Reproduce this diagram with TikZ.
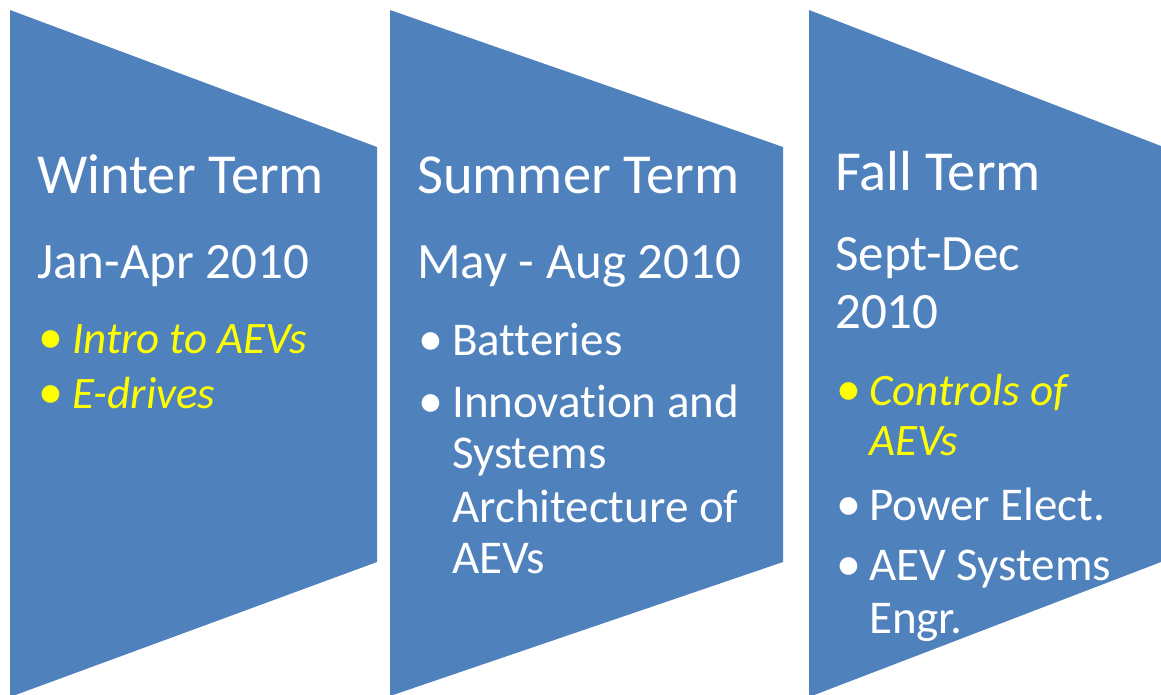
\documentclass[tikz,border=0pt]{standalone}
\usepackage{fontspec}
\setmainfont{Carlito}[Ligatures=NoCommon]
\definecolor{termblue}{HTML}{4F81BD}
\definecolor{hiyellow}{HTML}{FFFF00}
\tikzset{
  termshape/.style={fill=termblue, draw=none},
  titletext/.style={anchor=base west, inner sep=0pt, text=white, font=\fontsize{56.5}{56}\selectfont},
  datetext/.style={anchor=base west, inner sep=0pt, text=white, font=\fontsize{51}{51}\selectfont},
  itemtext/.style={anchor=base west, inner sep=0pt, text=white, font=\fontsize{47}{47}\selectfont},
  hitext/.style={anchor=base west, inner sep=0pt, text=hiyellow, font=\fontsize{45}{45}\itshape\selectfont},
  bullettext/.style={anchor=base west, inner sep=0pt, text=white, font=\fontsize{50}{50}\selectfont},
  hibullet/.style={bullettext, text=hiyellow},
}
\begin{document}
\begin{tikzpicture}[x=1pt,y=-1pt]
\useasboundingbox (0,0) rectangle (1161,694);
\clip (0,0) rectangle (1161,694);
% shapes
\fill[termshape] (10,10) -- (377,147) -- (377,562) -- (10,697) -- cycle;
\fill[termshape] (390,10) -- (783,147) -- (783,562) -- (390,696) -- cycle;
\fill[termshape] (809,10) -- (1161,146) -- (1161,562) -- (809,697) -- cycle;
% column 1
\node[titletext] (t1) at (37,193) {Winter Term};
\node[datetext] (d1) at (37,278) {Jan-Apr 2010};
\node[hibullet] (b1a) at (38,353) {•};
\node[hitext] (i1a) at (72,353) {Intro to AEVs};
\node[hibullet] (b1b) at (38,408) {•};
\node[hitext] (i1b) at (72,408) {E-drives};
% column 2
\node[titletext] (t2) at (417,193) {Summer Term};
\node[datetext] (d2) at (417,278) {May - Aug 2010};
\node[bullettext] (b2a) at (418,355) {•};
\node[itemtext] (i2a) at (452,355) {Batteries};
\node[bullettext] (b2b) at (418,417) {•};
\node[itemtext] (i2b) at (452,417) {Innovation and};
\node[itemtext] (i2c) at (452,468) {Systems};
\node[itemtext] (i2d) at (452,522) {Architecture of};
\node[itemtext] (i2e) at (452,573) {AEVs};
% column 3
\node[titletext] (t3) at (835,190) {Fall Term};
\node[datetext] (d3a) at (835,270) {Sept-Dec};
\node[datetext] (d3b) at (835,328) {2010};
\node[hibullet] (b3a) at (836,405) {•};
\node[hitext] (i3a) at (869,405) {Controls of};
\node[hitext] (i3b) at (869,455) {AEVs};
\node[bullettext] (b3b) at (836,520) {•};
\node[itemtext] (i3c) at (869,520) {Power Elect.};
\node[bullettext] (b3c) at (836,580) {•};
\node[itemtext] (i3d) at (869,580) {AEV Systems};
\node[itemtext] (i3e) at (869,633) {Engr.};
\end{tikzpicture}
\end{document}
